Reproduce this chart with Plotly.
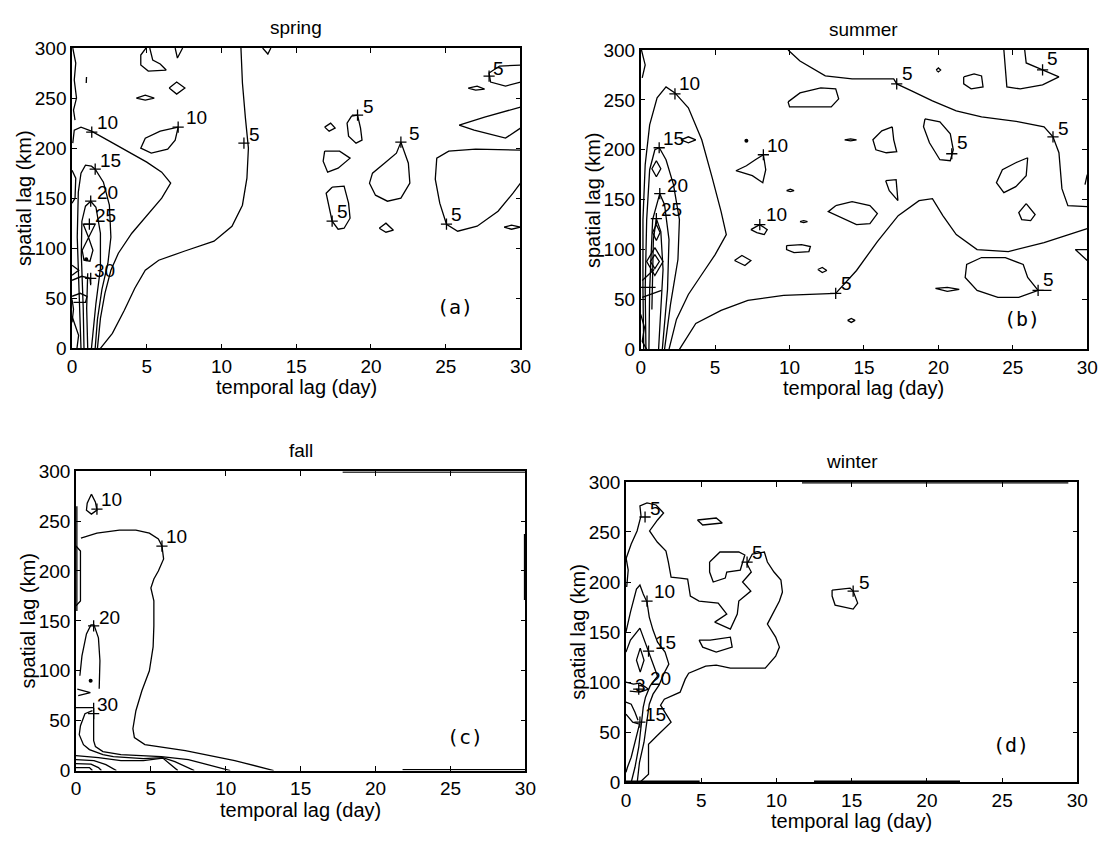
import plotly.graph_objects as go

W, H = 1113, 843

# ============ DATA: contour paths as (temporal lag day, spatial lag km) ============
# ---- spring (a)
sp_c5_main = [(1.9,0),(2.7,15),(3.5,38),(4.2,60),(4.9,78),(5.8,88),(7.5,97),(9.5,107),(10.7,122),(11.4,143),(11.7,170),(11.8,200),(11.6,230),(11.4,265),(11.3,300)]
sp_c10_main = [(0.05,205),(0.15,218),(0.6,221),(1.3,217),(2.5,207),(3.8,196),(5.0,186),(6.0,176),(6.6,165),(6.0,150),(5.0,133),(4.0,115),(3.1,95),(2.6,78),(2.2,55),(1.9,30),(1.7,0)]
sp_c15 = [(0.6,0),(0.55,25),(0.45,62),(0.35,111),(0.42,156),(0.6,175),(0.9,183),(1.3,182),(1.55,179),(2.1,166),(2.5,143),(2.6,111),(2.4,85),(2.0,59),(1.7,29),(1.55,0)]
sp_c20 = [(0.8,0),(0.75,40),(0.62,94),(0.66,127),(0.9,142),(1.25,147),(1.6,141),(1.9,115),(1.9,80),(1.6,45),(1.3,0)]
sp_c25 = [(1.1,111),(0.75,124),(1.55,124),(1.1,111),(0.68,98),(0.8,88),(1.2,87),(1.4,98),(1.1,111)]
sp_c30 = [(1.05,75),(0.98,40),(1.05,0)]
sp_left1 = [(0.05,300),(0.25,285),(0.15,268),(0.3,250),(0.1,238),(0.2,228)]
sp_left2 = [(0.0,178),(0.25,170),(0.2,150),(0.0,145)]
sp_w1 = [(0,83),(0.45,78),(0,73)]
sp_w2 = [(0,68),(0.65,72),(1.2,70),(1.25,63)]
sp_w3 = [(0,52),(0.55,55),(1.0,52),(0.9,46),(0.1,46)]
sp_w4 = [(0,49),(0.1,39),(0,26)]
sp_w5 = [(0,32),(0.22,23),(0.44,13),(0.33,0)]
sp_top1 = [(4.95,300),(4.6,293),(4.6,283),(5.1,277),(6.3,278),(5.9,284),(5.4,288),(5.2,300)]
sp_top2 = [(6.9,300),(7.05,290),(7.4,300)]
sp_top3 = [(12.75,300),(13.1,294),(13.3,300)]
sp_diam1 = [(6.5,260),(7.0,266),(7.55,260),(7.0,254),(6.5,260)]
sp_lens1 = [(4.3,250),(4.9,253),(5.5,250),(4.9,248),(4.3,250)]
sp_tick1 = [(0.95,265),(0.97,271)]
sp_c10_drop = [(7.1,221),(6.9,208),(6.4,199),(5.3,195),(4.6,200),(4.9,210),(5.9,217),(7.1,221)]
sp_diam2 = [(16.9,221),(17.3,225),(17.6,220),(17.2,217),(16.9,221)]
sp_c5_loopA = [(19.1,233),(19.3,220),(19.4,208),(19.0,205),(18.5,212),(18.4,225),(18.7,232),(19.1,233)]
sp_loopB = [(16.9,197),(17.9,197),(18.6,190),(17.8,180),(17.1,176),(16.8,187),(16.9,197)]
sp_c5_loopC = [(17.4,161),(18.2,162),(18.5,145),(18.6,130),(18.2,120),(17.8,119),(17.4,127),(17.2,140),(17.0,155),(17.4,161)]
sp_c5_drop = [(22.0,206),(21.7,195),(20.9,185),(20.1,175),(19.9,165),(20.3,153),(21.1,147),(22.0,150),(22.6,165),(22.5,185),(22.0,206)]
sp_diam3 = [(20.55,120),(21.0,125),(21.5,118),(21.0,116),(20.55,120)]
sp_c5_big = [(30,198),(27.0,199),(25.2,197),(24.4,190),(24.3,169),(24.6,145),(25.05,124),(25.8,117),(27.1,122),(28.5,137),(29.5,155),(30,165)]
sp_tri = [(30,241),(27.6,231),(25.9,223),(26.9,218),(29.0,210),(30,220)]
sp_lens2 = [(26.5,260),(27.1,262),(27.6,259),(27.0,258),(26.5,260)]
sp_c5_tr = [(30,283),(28.6,282),(27.9,275),(28.0,266),(29.0,262),(30,266)]
sp_lens3 = [(28.9,121),(29.4,123),(30,121),(29.4,119),(28.9,121)]
sp_dots = [(0.95,89)]
sp_cross = [(1.32,216),(7.1,221),(11.5,205),(1.55,179),(1.25,147),(1.16,124),(1.25,70),(19.1,233),(22.0,206),(17.4,127),(25.05,124),(27.9,272)]
sp_label_text = ["10","10","5","15","20","25","30","5","5","5","5","5"]
sp_label_pos = [(2.4,226),(8.3,231),(12.2,214),(2.6,188),(2.4,156),(2.26,133),(2.15,78),(19.8,242),(22.9,215),(18.1,137),(25.7,134),(28.5,280)]

# ---- summer (b)
su_c10_main = [(0.2,0),(0.15,60),(0.15,130),(0.3,185),(0.6,225),(1.1,252),(1.7,263),(2.3,257),(3.2,242),(4.1,210),(4.8,172),(5.4,138),(5.75,115),(5.0,95),(4.1,75),(3.2,55),(2.4,30),(1.9,0)]
su_c15 = [(0.35,0),(0.3,60),(0.4,130),(0.6,180),(0.95,200),(1.25,202),(1.7,190),(2.2,165),(2.6,130),(2.5,90),(2.0,45),(1.6,0)]
su_c20 = [(0.55,0),(0.6,60),(0.8,130),(1.28,156),(1.6,145),(1.9,110),(1.8,60),(1.45,0)]
su_c25 = [(0.75,40),(0.85,110),(1.05,131),(1.35,118),(1.5,80),(1.3,30),(1.2,0)]
su_d1 = [(1.05,189),(1.35,181),(1.05,173),(0.75,181),(1.05,189)]
su_d2 = [(1.05,125),(1.3,117),(1.05,109),(0.8,117),(1.05,125)]
su_d3 = [(0.95,102),(1.5,88),(0.95,74),(0.4,88),(0.95,102)]
su_d4 = [(0.95,95),(1.25,88),(0.95,81),(0.65,88),(0.95,95)]
su_h1 = [(0,62),(1.0,62)]
su_h2 = [(0.1,69),(0.9,80)]
su_h3 = [(0.1,52),(1.4,59)]
su_left1 = [(0.05,300),(0.3,285),(0.1,272)]
su_left2 = [(0,35),(0.25,22),(0.1,8),(0.4,0)]
su_c5_top = [(9.9,300),(10.7,289),(12.4,274),(14.2,271),(17.0,271),(17.2,266),(18.2,259),(19.6,249),(21.2,239),(22.9,233),(25.4,228),(27.1,223),(27.7,213),(28.1,197),(28.3,161),(28.7,144),(30,143)]
su_c5_tr = [(25.8,300),(25.9,287),(27.0,280),(28.1,273),(27.0,265),(25.5,261),(24.6,263),(24.5,280),(24.4,300)]
su_c5_bot = [(2.6,0),(3.7,26),(5.4,39),(7.2,49),(9.6,54),(13.1,56),(14.5,79),(15.9,108),(17.3,134),(18.7,149),(19.6,151),(20.3,134),(21.2,115),(22.6,100),(24.7,98),(27.1,107),(30,121)]
su_c5_br = [(27.6,59),(26.7,59),(25.4,52),(24.0,52),(22.6,59),(21.8,72),(21.9,85),(22.9,92),(24.5,92),(25.7,85),(26.0,72),(26.4,64),(26.7,59)]
su_loop1 = [(9.9,248),(10.7,257),(12.1,262),(13.1,261),(13.3,251),(12.8,243),(11.2,243),(10.0,243),(9.9,248)]
su_c10_loop = [(8.24,195),(8.4,180),(8.2,167),(7.5,174),(6.4,179),(7.1,184),(7.7,190),(8.24,195)]
su_lensA = [(13.7,210),(14.1,211),(14.5,210),(14.1,209),(13.7,210)]
su_lens15 = [(2.7,210),(3.2,213),(3.7,210),(3.2,207),(2.7,210)]
su_loop2 = [(16.9,223),(16.2,219),(15.6,210),(15.8,200),(16.5,197),(17.2,198),(17.0,210),(16.9,223)]
su_c5_loop3 = [(19.1,231),(20.1,228),(20.8,216),(21.0,200),(20.8,189),(20.1,190),(19.4,207),(19.0,223),(19.1,231)]
su_loop4 = [(21.7,273),(22.4,276),(22.9,274),(23.0,263),(22.2,261),(21.7,266),(21.7,273)]
su_drop1 = [(26.0,192),(25.9,174),(25.2,163),(24.4,157),(23.9,167),(24.3,180),(25.2,187),(26.0,192)]
su_drop2 = [(25.9,146),(26.5,135),(26.2,129),(25.6,130),(25.4,137),(25.9,146)]
su_loop5 = [(16.46,169),(17.16,170),(17.28,149),(16.7,159),(16.46,169)]
su_loop6 = [(13.1,144),(14.2,148),(15.4,144),(15.9,136),(15.4,126),(14.5,125),(12.6,138),(13.1,144)]
su_lens3 = [(9.8,159),(10.05,160.5),(10.3,159),(10.05,158),(9.8,159)]
su_lens4 = [(10.7,128),(10.95,129),(11.2,128),(10.95,127),(10.7,128)]
su_c10_loop2 = [(7.4,120),(8.0,125),(8.5,120),(8.3,115),(7.8,117),(7.4,120)]
su_loop7 = [(9.8,104),(10.8,105),(11.4,103),(11.3,98),(10.3,97),(9.8,100),(9.8,104)]
su_diam = [(6.3,89),(6.8,94),(7.4,89),(7.0,84),(6.3,89)]
su_lens8 = [(11.9,80),(12.2,82),(12.5,79),(12.2,77),(11.9,80)]
su_lens9 = [(19.8,61),(20.6,62),(21.4,60),(20.6,58),(19.8,61)]
su_lens10 = [(13.9,29),(14.15,31),(14.4,29),(14.15,27),(13.9,29)]
su_lens11 = [(19.85,280),(20.0,282),(20.15,280),(20.0,278),(19.85,280)]
su_tri = [(30,100),(29.2,100),(30,89)]
su_rtick = [(29.85,165),(30,175)]
su_dots = [(7.1,209)]
su_cross = [(2.3,256),(1.24,202),(1.28,156),(1.05,131),(8.24,195),(8.0,125),(17.2,266),(27.7,213),(27.0,280),(20.9,196),(13.1,56),(26.7,59)]
su_label_text = ["10","15","20","25","10","10","5","5","5","5","5","5"]
su_label_pos = [(3.3,266),(2.2,211),(2.45,164),(2.1,140),(9.2,204),(9.15,135),(17.9,276),(28.4,221),(27.7,291),(21.6,207),(13.8,66),(27.4,70)]

# ---- fall (c)
fa_c10_main = [(0.33,233),(1.4,238),(2.9,241),(4.0,241),(4.9,238),(5.5,232),(5.74,225),(5.85,212),(5.5,200),(5.2,192),(5.0,183),(5.2,170),(5.2,145),(5.15,124),(4.9,100),(4.4,80),(4.0,60),(3.8,42),(3.9,33),(4.6,26),(7.3,20),(10.6,10),(13.2,0)]
fa_c10_drop = [(1.03,277),(1.3,269),(1.4,261),(1.03,257),(0.7,261),(0.75,268),(1.03,277)]
fa_c20 = [(0.26,95),(0.4,115),(0.7,137),(1.0,146),(1.2,146),(1.5,133),(1.6,110),(1.55,82)]
fa_c30 = [(1.18,68),(1.18,30),(1.3,24),(1.8,19),(3.0,16),(5.7,14),(7.5,11),(10.3,0)]
fa_curl = [(1.1,60),(0.6,57),(0.3,45),(0.22,36),(0.5,26),(0.9,21),(1.8,16),(2.5,14),(4.5,12),(5.8,13),(6.6,9),(7.9,0)]
fa_l3 = [(0,15),(1.5,13),(3.0,10),(4.5,10),(5.8,12.5),(6.3,6),(6.8,0)]
fa_l4 = [(0,11),(1.2,10),(2.0,6),(2.5,2),(2.7,0)]
fa_l5 = [(0,7),(1.0,6.5),(1.5,3),(1.7,0)]
fa_l6 = [(0,3),(0.9,3),(1.1,0)]
fa_vert = [(0.0,225),(0.3,220),(0.3,170),(0.0,165)]
fa_edge_left = [(0.06,265),(0.06,160)]
fa_v = [(0.09,81.5),(0.96,78),(0.15,75)]
fa_h = [(0,63),(1.18,63)]
fa_edge_right = [(29.94,237),(29.94,171)]
fa_edge_top = [(17.8,299),(30,299)]
fa_edge_bot = [(21.8,1),(30,1)]
fa_dots = [(0.98,90)]
fa_cross = [(1.4,262),(5.74,225),(1.18,145),(1.18,57)]
fa_label_text = ["10","10","20","30"]
fa_label_pos = [(2.34,272),(6.7,235),(2.23,153),(2.08,66)]

# ---- winter (d)
wi_c5_main = [(0,223),(0.35,238),(0.74,251),(1.0,266),(0.93,276),(1.4,279),(2.0,277),(2.5,269),(2.1,262),(1.57,251),(2.08,240),(2.66,231),(2.82,220),(3.0,205),(3.6,204),(4.1,203),(4.28,186),(4.86,181),(6.13,179),(6.7,168),(5.9,160),(6.94,153),(7.4,168),(7.5,181),(8.3,191),(7.75,200),(8.33,210),(8.05,218),(8.4,228),(9.2,230),(9.4,220),(9.84,210),(10.3,202),(10.4,190),(10.2,181),(9.4,158),(9.95,145),(10.2,135),(9.95,126),(9.26,114),(8.1,114),(6.94,114),(6.0,117),(5.3,116),(4.17,109),(3.94,103),(3.6,90),(2.55,83),(2.3,77),(3.0,60),(2.1,47),(1.5,38),(1.5,8),(0.93,0)]
wi_c5_C = [(5.56,220),(6.25,230),(7.5,230),(7.9,227),(7.6,212),(6.7,210),(6.6,204),(5.8,200),(5.56,210),(5.56,220)]
wi_lens = [(4.75,262),(6.0,264),(6.4,259),(5.1,257),(4.75,262)]
wi_loop2 = [(4.86,142),(5.6,142),(6.94,145),(7.06,135),(6.0,130),(5.1,135),(4.86,142)]
wi_c5_loop = [(13.7,192),(14.9,194),(15.1,191),(15.4,179),(15.1,173),(13.9,177),(13.7,186),(13.7,192)]
wi_c10 = [(0,150),(0.3,170),(0.7,193),(0.93,197),(1.15,188),(1.4,180),(1.55,165),(1.8,152),(2.1,140),(2.6,130),(2.85,118),(2.5,108),(2.2,97),(1.8,88),(1.55,78),(1.4,60),(1.2,40),(0.9,20),(0.75,0)]
wi_c15 = [(0,130),(0.3,142),(0.93,154),(1.2,143),(1.45,133),(1.75,122),(2.1,106),(1.6,96),(1.3,85),(1.15,75),(1.0,55),(0.85,35),(0.6,15),(0.35,0)]
wi_diam = [(0.95,134),(1.2,122),(0.95,110),(0.7,122),(0.95,134)]
wi_b1 = [(0,100),(0.5,98),(0.93,99),(1.5,93),(0.93,90),(0.25,91)]
wi_b2 = [(0,80),(0.35,78),(0.6,70),(0.8,62)]
wi_b3 = [(0,68),(0.45,60),(0.9,58),(0.6,40),(0.35,25),(0.1,15),(0,10)]
wi_left = [(0,225),(0.15,212),(0.05,195)]
wi_edge_top = [(11.7,299),(29.4,299)]
wi_edge_bot1 = [(12.5,1),(22.2,1)]
wi_edge_bot2 = [(0,1),(4.9,1)]
wi_cross = [(1.27,265),(1.4,181),(1.5,131),(0.85,93),(0.93,60),(8.05,220),(15.1,191)]
wi_label_text = ["5","10","15","20","3","15","5","5"]
wi_label_pos = [(1.97,273),(2.55,191),(2.66,140),(2.3,104),(0.95,97),(1.97,68),(8.75,230),(15.86,200)]

SPRING_LINES = [sp_c5_main, sp_c10_main, sp_c15, sp_c20, sp_c25, sp_c30, sp_left1, sp_left2, sp_w1, sp_w2, sp_w3, sp_w4, sp_w5,
                sp_top1, sp_top2, sp_top3, sp_diam1, sp_lens1, sp_tick1, sp_c10_drop, sp_diam2, sp_c5_loopA, sp_loopB,
                sp_c5_loopC, sp_c5_drop, sp_diam3, sp_c5_big, sp_tri, sp_lens2, sp_c5_tr, sp_lens3]
SUMMER_LINES = [su_c10_main, su_c15, su_c20, su_c25, su_d1, su_d2, su_d3, su_d4, su_h1, su_h2, su_h3, su_left1, su_left2,
                su_c5_top, su_c5_tr, su_c5_bot, su_c5_br, su_loop1, su_c10_loop, su_lensA, su_lens15, su_loop2, su_c5_loop3,
                su_loop4, su_drop1, su_drop2, su_loop5, su_loop6, su_lens3, su_lens4, su_c10_loop2, su_loop7, su_diam,
                su_lens8, su_lens9, su_lens10, su_lens11, su_tri, su_rtick]
FALL_LINES = [fa_c10_main, fa_c10_drop, fa_c20, fa_c30, fa_curl, fa_l3, fa_l4, fa_l5, fa_l6, fa_vert, fa_edge_left, fa_v, fa_h,
              fa_edge_right, fa_edge_top, fa_edge_bot]
WINTER_LINES = [wi_c5_main, wi_c5_C, wi_lens, wi_loop2, wi_c5_loop, wi_c10, wi_c15, wi_diam, wi_b1, wi_b2, wi_b3, wi_left,
                wi_edge_top, wi_edge_bot1, wi_edge_bot2]

SEASONS = ["spring", "summer", "fall", "winter"]
PANEL_TAGS = ["(a)", "(b)", "(c)", "(d)"]
X_TICKS = [0, 5, 10, 15, 20, 25, 30]
Y_TICKS = [0, 50, 100, 150, 200, 250, 300]

# ============ LAYOUT (pixel boxes of the four axes) ============
BOXES = [(68, 523, 39, 347), (645, 1098, 41, 348), (72, 528, 473, 780), (630, 1088, 484, 792)]
TAG_POS = [(25.6, 41), (25.6, 30), (26.0, 34), (25.6, 37)]

FONT = "Liberation Sans, Arial, Helvetica, sans-serif"
FS = 19

fig = go.Figure()

panels = [
    (SPRING_LINES, sp_cross, sp_label_text, sp_label_pos, sp_dots),
    (SUMMER_LINES, su_cross, su_label_text, su_label_pos, su_dots),
    (FALL_LINES, fa_cross, fa_label_text, fa_label_pos, fa_dots),
    (WINTER_LINES, wi_cross, wi_label_text, wi_label_pos, []),
]

annotations = []
for i, (lines, cross, ltxt, lpos, dots) in enumerate(panels):
    n = "" if i == 0 else str(i + 1)
    xa, ya = "x" + n, "y" + n
    xs, ys = [], []
    for path in lines:
        xs += [p[0] for p in path] + [None]
        ys += [p[1] for p in path] + [None]
    fig.add_trace(go.Scatter(x=xs, y=ys, mode="lines", line=dict(color="black", width=1.3),
                             xaxis=xa, yaxis=ya, showlegend=False, hoverinfo="skip"))
    fig.add_trace(go.Scatter(x=[c[0] for c in cross], y=[c[1] for c in cross], mode="markers",
                             marker=dict(symbol="cross-thin", size=8, line=dict(color="black", width=1.3)),
                             xaxis=xa, yaxis=ya, showlegend=False, hoverinfo="skip"))
    if dots:
        fig.add_trace(go.Scatter(x=[d[0] for d in dots], y=[d[1] for d in dots], mode="markers",
                                 marker=dict(color="black", size=4), xaxis=xa, yaxis=ya,
                                 showlegend=False, hoverinfo="skip"))
    for t, (lx, ly) in zip(ltxt, lpos):
        annotations.append(dict(x=lx, y=ly, xref=xa, yref=ya, text=t, showarrow=False,
                                xanchor="center", yanchor="middle",
                                font=dict(family=FONT, size=FS, color="black")))
    tx, ty = TAG_POS[i]
    annotations.append(dict(x=tx, y=ty, xref=xa, yref=ya, text=PANEL_TAGS[i], showarrow=False,
                            xanchor="center", yanchor="middle",
                            font=dict(family="DejaVu Sans Mono, monospace", size=20, color="black")))

    L, R, T, B = BOXES[i]
    axcommon = dict(showline=True, linecolor="black", linewidth=1.5, mirror="ticks", ticks="inside",
                    ticklen=5, tickwidth=1, tickcolor="black", showgrid=False, zeroline=False,
                    tickfont=dict(family=FONT, size=FS, color="black"))
    fig.update_layout(**{
        "xaxis" + n: dict(domain=[L / W, R / W], range=[0, 30], tickvals=X_TICKS, anchor=ya, **axcommon),
        "yaxis" + n: dict(domain=[1 - B / H, 1 - T / H], range=[0, 300], tickvals=Y_TICKS, anchor=xa, **axcommon),
    })
    cx = (L + R) / 2
    annotations.append(dict(x=cx / W, y=1 - (T - 21) / H, xref="paper", yref="paper", text=SEASONS[i],
                            xanchor="center", yanchor="middle", showarrow=False,
                            font=dict(family=FONT, size=FS, color="black")))
    annotations.append(dict(x=cx / W, y=1 - (B + 40) / H, xref="paper", yref="paper", text="temporal lag (day)",
                            xanchor="center", yanchor="middle", showarrow=False,
                            font=dict(family=FONT, size=20, color="black")))
    annotations.append(dict(x=(L - 49) / W, y=1 - ((T + B) / 2) / H, xref="paper", yref="paper",
                            text="spatial lag (km)", textangle=-90, xanchor="center", yanchor="middle",
                            showarrow=False, font=dict(family=FONT, size=20, color="black")))

fig.update_layout(width=W, height=H, margin=dict(l=0, r=0, t=0, b=0), paper_bgcolor="white",
                  plot_bgcolor="white", annotations=annotations)

fig.write_html("out.html", config={"displayModeBar": False},
               post_script="document.body.style.margin='0';")
